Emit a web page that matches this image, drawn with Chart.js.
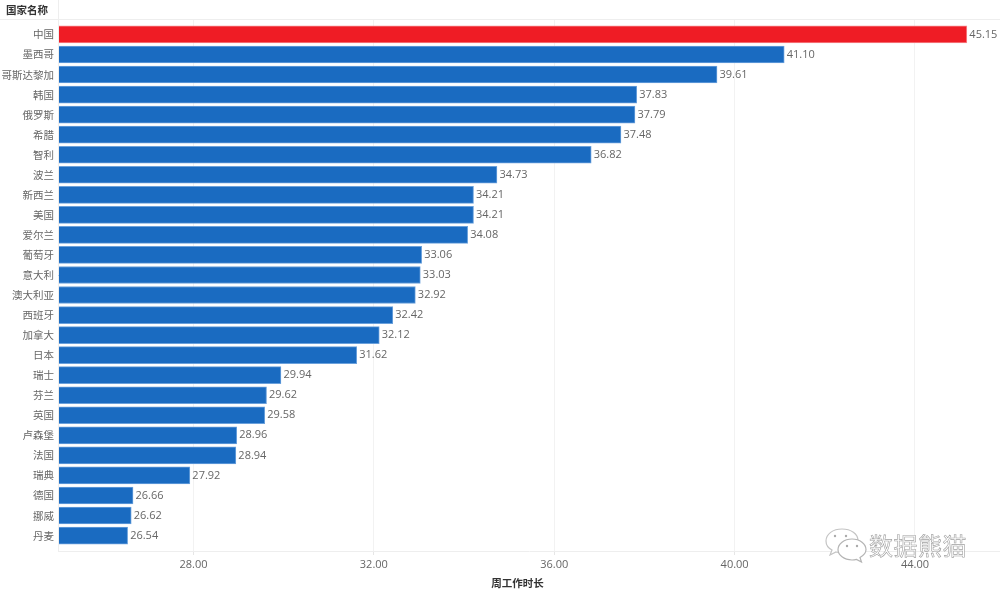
<!DOCTYPE html>
<html>
<head>
<meta charset="utf-8">
<style>
  html,body{margin:0;padding:0;background:#fff;}
  #wrap{position:relative;width:1000px;height:591px;}
  #wechat{position:absolute;left:824px;top:527px;}
  #mark{position:absolute;left:869px;top:529px;font:24px "Noto Sans CJK SC";color:#fff;letter-spacing:0.5px;
    -webkit-text-stroke:0.6px #a0a0a0;line-height:32px;}
</style>
</head>
<body>
<div id="wrap">
  <canvas id="canvas1" width="1000" height="591"></canvas>
  <svg id="wechat" width="44" height="38" viewBox="0 0 44 38">
    <path d="M18 2c-9 0-16 5-16 12 0 4 2 7 6 9l-2 5 6-3c2 .5 4 .7 6 .7 9 0 16-5 16-12S27 2 18 2z" fill="#fff" stroke="#c4c4c4" stroke-width="1.2"/>
    <path d="M28 12c-8 0-14 5-14 10.500s6 10.500 14 10.500c1.500 0 3-.2 4.500-.6l5 2.600-1.500-4.500c3.500-2 6-4.500 6-8 0-5.500-6-10.500-14-10.500z" fill="#fff" stroke="#b4b4b4" stroke-width="1.2"/>
    <circle cx="11" cy="9" r="1.200" fill="#aaa"/><circle cx="22" cy="9" r="1.200" fill="#aaa"/>
    <circle cx="23" cy="19" r="1.200" fill="#aaa"/><circle cx="33" cy="19" r="1.200" fill="#aaa"/>
  </svg>
  <div id="mark">数据熊猫</div>
</div>
<script src="https://cdn.jsdelivr.net/npm/chart.js@4"></script>
<script>
const countries = ['中国','墨西哥','哥斯达黎加','韩国','俄罗斯','希腊','智利','波兰','新西兰','美国','爱尔兰','葡萄牙','意大利','澳大利亚','西班牙','加拿大','日本','瑞士','芬兰','英国','卢森堡','法国','瑞典','德国','挪威','丹麦'];
const hours = [45.15,41.10,39.61,37.83,37.79,37.48,36.82,34.73,34.21,34.21,34.08,33.06,33.03,32.92,32.42,32.12,31.62,29.94,29.62,29.58,28.96,28.94,27.92,26.66,26.62,26.54];
const xTicks = [28,32,36,40,44];
const xTitle = '周工作时长';
const yTitle = '国家名称';

const cjk = '"Noto Sans CJK SC"';
const xMin = 24.996, xMax = 45.885;

// value labels, header row and axis title
const extras = {
  id: 'extras',
  afterDatasetsDraw(chart) {
    const ctx = chart.ctx, x = chart.scales.x, y = chart.scales.y;
    ctx.save();
    ctx.strokeStyle = '#eeeeee';
    ctx.lineWidth = 1;
    ctx.beginPath();
    ctx.moveTo(0, y.top + 0.5); ctx.lineTo(1000, y.top + 0.5);
    ctx.moveTo(x.left + 0.5, 0); ctx.lineTo(x.left + 0.5, y.bottom);
    ctx.stroke();

    ctx.fillStyle = '#333';
    ctx.font = 'bold 10.5px ' + cjk;
    ctx.textBaseline = 'middle';
    ctx.fillText(yTitle, 6, 10);
    ctx.textAlign = 'center';
    ctx.fillText(xTitle, 517.5, 583);
    ctx.textAlign = 'left';

    ctx.fillStyle = '#666';
    ctx.font = '11px "Open Sans"';
    hours.forEach((v, i) => {
      ctx.fillText(v.toFixed(2), x.getPixelForValue(v) + 2.5, y.getPixelForValue(i));
    });
    ctx.restore();
  }
};

new Chart(document.getElementById('canvas1'), {
  type: 'bar',
  data: {
    datasets: [{
      data: hours.map((v, i) => ({x: v, y: i})),
      base: xMin,
      backgroundColor: hours.map((v, i) => i === 0 ? '#ef1c25' : '#1a6bc1'),
      borderColor: hours.map((v, i) => i === 0 ? '#f6868b' : '#6ba1dc'),
      borderWidth: 1,
      barThickness: 17,
    }]
  },
  plugins: [extras],
  options: {
    indexAxis: 'y',
    responsive: false,
    animation: false,
    layout: {padding: {top: 19, bottom: 0, left: 0, right: 0}},
    plugins: {legend: {display: false}, tooltip: {enabled: false}},
    scales: {
      x: {
        type: 'linear',
        min: xMin,
        max: xMax,
        afterBuildTicks: s => { s.ticks = xTicks.map(v => ({value: v})); },
        afterFit: s => { s.height = 40; },
        grid: {color: '#f2f2f2', tickColor: '#e6e6e6', tickLength: 4},
        border: {color: '#eeeeee'},
        ticks: {
          color: '#666',
          font: {family: 'Open Sans', size: 11},
          padding: 3,
          maxRotation: 0,
          callback: v => v.toFixed(2),
        },
      },
      y: {
        type: 'linear',
        reverse: true,
        offset: false,
        min: -0.77,
        max: 25.77,
        afterBuildTicks: s => { s.ticks = countries.map((c, i) => ({value: i})); },
        afterFit: s => { s.width = 58; },
        grid: {display: false, tickLength: 0},
        border: {display: false},
        ticks: {
          color: '#666',
          font: {family: 'Noto Sans CJK SC', size: 10.5},
          padding: 4,
          autoSkip: false,
          callback: v => countries[v],
        },
      },
    },
  },
});
</script>
</body>
</html>
